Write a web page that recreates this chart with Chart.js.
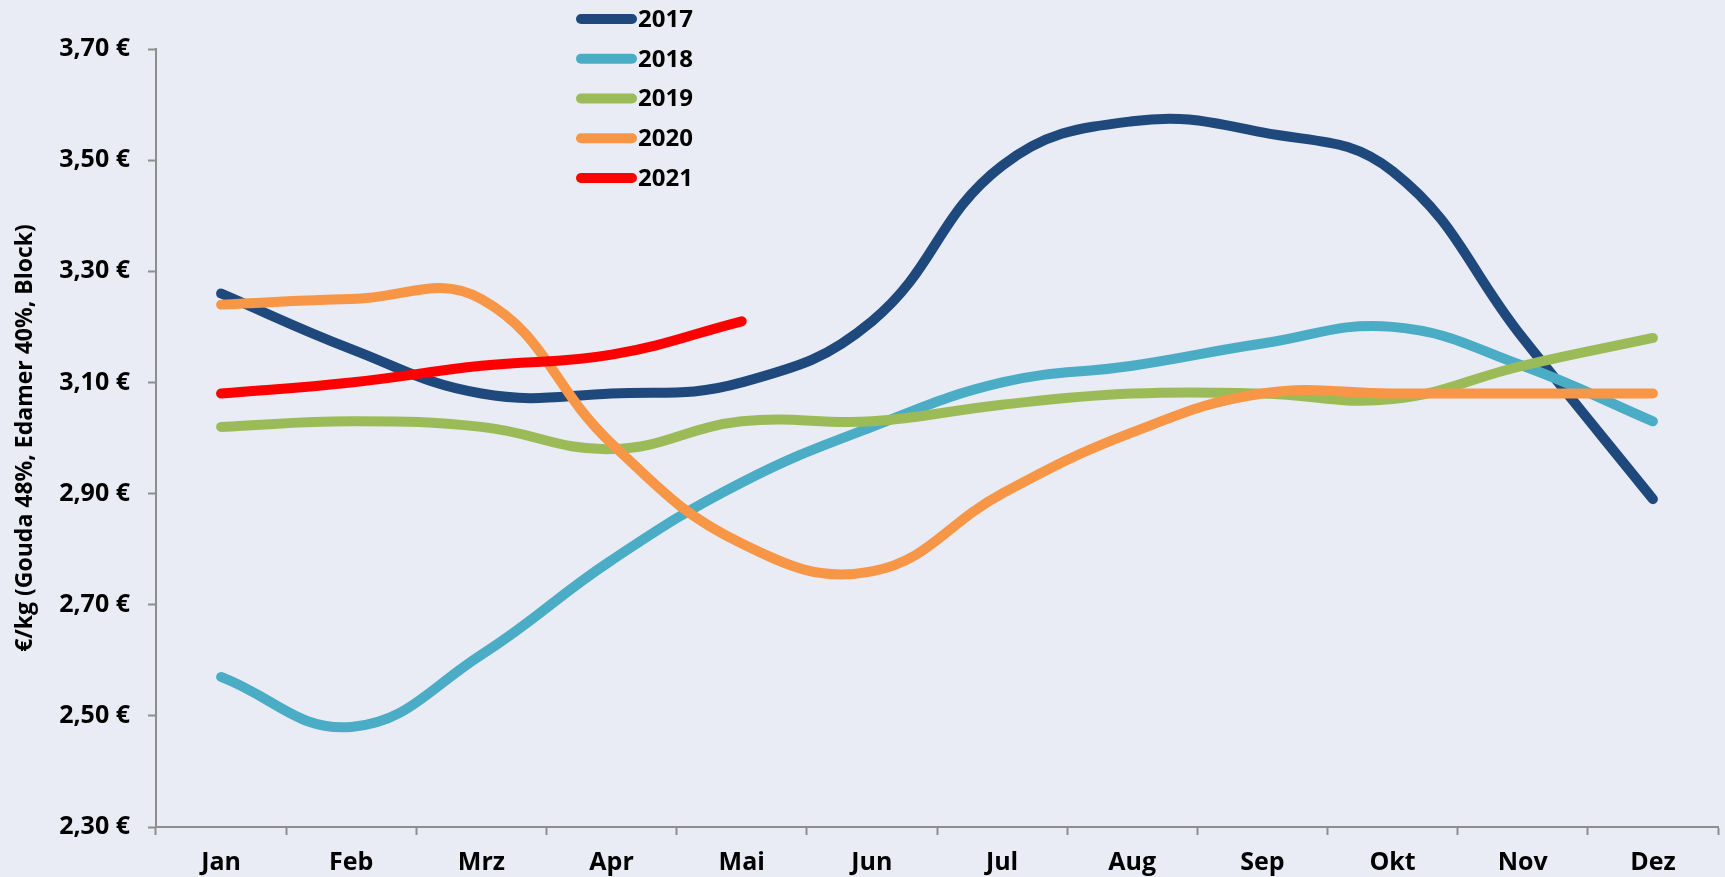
<!DOCTYPE html>
<html>
<head>
<meta charset="utf-8">
<script src="https://cdn.jsdelivr.net/npm/chart.js@4/dist/chart.umd.min.js"></script>
<style>
  html, body { margin: 0; padding: 0; background: #E9ECF5; }
  #wrap { position: relative; width: 1725px; height: 877px; }
</style>
</head>
<body>
<div id="wrap"><canvas id="c"></canvas></div>
<script>
const months = ['Jan','Feb','Mrz','Apr','Mai','Jun','Jul','Aug','Sep','Okt','Nov','Dez'];
const y2017 = [3.26, 3.16, 3.08, 3.08, 3.10, 3.21, 3.49, 3.57, 3.55, 3.48, 3.18, 2.89];
const y2018 = [2.57, 2.48, 2.61, 2.78, 2.92, 3.02, 3.10, 3.13, 3.17, 3.20, 3.13, 3.03];
const y2019 = [3.02, 3.03, 3.02, 2.98, 3.03, 3.03, 3.06, 3.08, 3.08, 3.07, 3.13, 3.18];
const y2020 = [3.24, 3.25, 3.25, 2.99, 2.81, 2.76, 2.90, 3.01, 3.08, 3.08, 3.08, 3.08];
const y2021 = [3.08, 3.10, 3.13, 3.15, 3.21];
const seriesLabels = ['2017', '2018', '2019', '2020', '2021'];
const seriesColors = ['#1F497D', '#4BACC6', '#9BBB59', '#F79646', '#FF0000'];
const yTicks = [2.30, 2.50, 2.70, 2.90, 3.10, 3.30, 3.50, 3.70];
const yTitle = '€/kg (Gouda 48%, Edamer 40%, Block)';

const FONT = '"Open Sans", "DejaVu Sans", sans-serif';
const seriesValues = [y2017, y2018, y2019, y2020, y2021];

const datasets = seriesLabels.map((lab, i) => ({
  label: lab,
  data: seriesValues[i],
  borderColor: seriesColors[i],
  backgroundColor: seriesColors[i],
  borderWidth: 10,
  borderCapStyle: 'round',
  borderJoinStyle: 'round',
  pointRadius: 0,
  pointHoverRadius: 0,
  tension: 0.42,
  fill: false,
  order: seriesLabels.length - i
}));

const bgPlugin = {
  id: 'bg',
  beforeDraw(chart) {
    const ctx = chart.ctx;
    ctx.save();
    ctx.fillStyle = '#E9ECF5';
    ctx.fillRect(0, 0, chart.width, chart.height);
    ctx.restore();
  }
};

const legendPlugin = {
  id: 'stackLegend',
  afterDraw(chart) {
    const ctx = chart.ctx;
    ctx.save();
    ctx.font = 'bold 24px ' + FONT;
    ctx.textBaseline = 'middle';
    ctx.textAlign = 'left';
    chart.data.datasets.forEach((ds, i) => {
      const y = 19 + i * 39.75;
      ctx.strokeStyle = ds.borderColor;
      ctx.lineWidth = 10;
      ctx.lineCap = 'round';
      ctx.beginPath();
      ctx.moveTo(581, y);
      ctx.lineTo(632, y);
      ctx.stroke();
      ctx.fillStyle = '#000';
      ctx.fillText(ds.label, 638, y + 1);
    });
    ctx.restore();
  }
};

new Chart(document.getElementById('c'), {
  type: 'line',
  data: { labels: months, datasets: datasets },
  options: {
    responsive: true,
    maintainAspectRatio: false,
    animation: false,
    devicePixelRatio: 1,
    layout: { padding: { top: 49, right: 7, bottom: 0, left: 0 } },
    plugins: {
      legend: { display: false },
      tooltip: { enabled: false },
      title: { display: false }
    },
    scales: {
      x: {
        type: 'category',
        offset: true,
        afterFit(scale) { scale.height = 50; },
        grid: {
          display: true,
          offset: true,
          drawOnChartArea: false,
          drawTicks: true,
          tickLength: 8,
          tickWidth: 2,
          color: '#8E8E8E'
        },
        border: { display: true, color: '#8E8E8E', width: 2 },
        ticks: {
          color: '#000',
          padding: 13,
          maxRotation: 0,
          autoSkip: false,
          font: { family: FONT, size: 25, weight: 'bold' }
        }
      },
      y: {
        min: 2.30,
        max: 3.70,
        afterFit(scale) { scale.width = 156; },
        afterBuildTicks(scale) { scale.ticks = yTicks.map(v => ({ value: v })); },
        grid: {
          display: true,
          drawOnChartArea: false,
          drawTicks: true,
          tickLength: 8,
          tickWidth: 2,
          color: '#8E8E8E'
        },
        border: { display: true, color: '#8E8E8E', width: 2 },
        ticks: {
          color: '#000',
          padding: 18,
          font: { family: FONT, size: 25, weight: 'bold' },
          callback: (v) => Number(v).toFixed(2).replace('.', ',') + ' €'
        },
        title: {
          display: true,
          text: yTitle,
          color: '#000',
          padding: { top: 12, bottom: 0 },
          font: { family: FONT, size: 23, weight: 'bold' }
        }
      }
    }
  },
  plugins: [bgPlugin, legendPlugin]
});
</script>
</body>
</html>
